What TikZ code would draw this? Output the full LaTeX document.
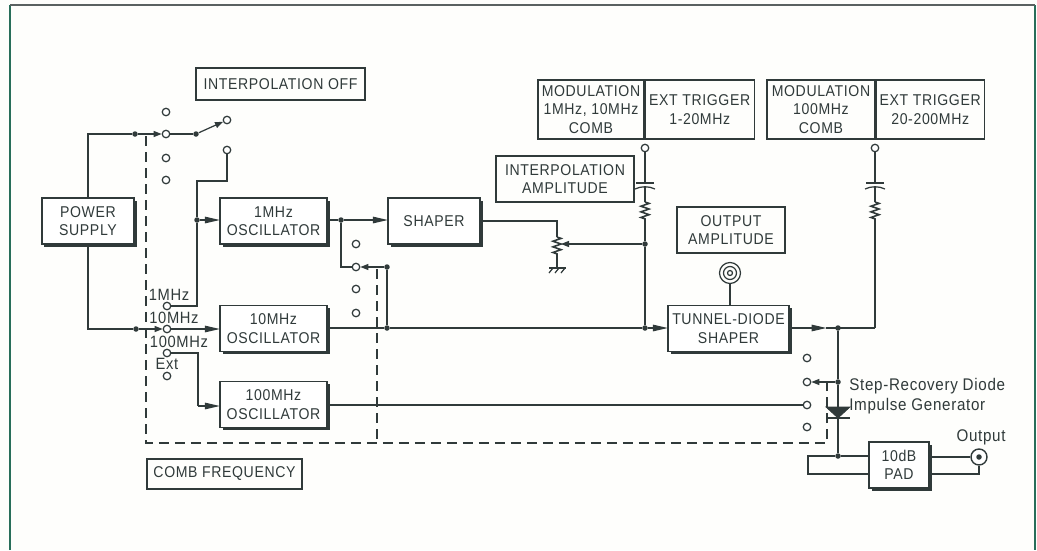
\documentclass[tikz,border=0pt]{standalone}
\usepackage{fontspec}
\setmainfont[LetterSpace=4, FakeStretch=0.9]{Liberation Sans}
\usepackage{tikz}
\usetikzlibrary{arrows.meta, shadows, decorations.pathmorphing}
\definecolor{inkgrey}{RGB}{48,58,58}
\definecolor{framegreen}{RGB}{40,110,90}
\definecolor{paperwhite}{RGB}{254,254,252}

\begin{document}
\begin{tikzpicture}[
  x=0.2mm, y=-0.2mm,
  every node/.style={text=inkgrey},
  wire/.style={draw=inkgrey, line width=0.7pt},
  resist/.style={draw=inkgrey, line width=0.9pt, decorate,
    decoration={zigzag, segment length=3.2pt, amplitude=2.3pt}},
  blockbox/.style={draw=inkgrey, fill=white, line width=0.7pt, minimum width=#1,
    minimum height=0.92cm, align=center, inner sep=0pt, font=\fontsize{8.9}{10.4}\selectfont,
    drop shadow={shadow xshift=0.05cm, shadow yshift=-0.05cm, fill=inkgrey, opacity=1}},
  blockbox/.default=2.14cm,
  labelbox/.style={draw=inkgrey, line width=0.7pt, align=center, inner sep=0pt,
    font=\fontsize{8.9}{10.4}\selectfont},
  contact/.style={circle, draw=inkgrey, fill=white, line width=0.7pt, minimum size=0.15cm, inner sep=0pt},
  junct/.style={circle, fill=inkgrey, minimum size=0.11cm, inner sep=0pt},
  ctext/.style={font=\fontsize{9.3}{10}\selectfont, inner sep=0pt},
  steptext/.style={font=\fontsize{9.6}{10}\selectfont, inner sep=0pt},
  arr/.style={wire, -{Triangle[length=0.3cm, width=0.13cm]}, shorten >=-0.3pt},
  sarr/.style={wire, -{Triangle[length=0.16cm, width=0.12cm]}},
  combdash/.style={draw=inkgrey, line width=0.6pt, dash pattern=on 0.2cm off 0.12cm}
]
\useasboundingbox (0,0) rectangle (1037,550);
\fill[paperwhite] (0,0) rectangle (1037,550);
% Frame
\draw[framegreen, line width=0.8pt] (10,550) -- (10,5);
\draw[framegreen, line width=0.8pt] (1035,5) -- (1035,550);
\draw[inkgrey!80, line width=0.8pt] (10,5) -- (1035,5);
% Dashed link of the comb frequency switch
\draw[combdash] (146,136) -- (146,443) -- (827,443) -- (827,382);
\draw[combdash] (377,269) -- (377,443);
% Blocks
\node[blockbox=1.84cm] (power) at (88,221) {POWER\\SUPPLY};
\node[blockbox] (osc1) at (273.5,221) {1MHz\\OSCILLATOR};
\node[blockbox] (osc10) at (273.5,328.5) {10MHz\\OSCILLATOR};
\node[blockbox] (osc100) at (273.5,404.5) {100MHz\\OSCILLATOR};
\node[blockbox=1.84cm] (shaper) at (434,221) {SHAPER};
\node[blockbox=2.42cm] (tunnel) at (728.5,328.5) {TUNNEL-DIODE\\SHAPER};
\node[blockbox=1.2cm] (pad) at (899,465) {10dB\\PAD};
% Labels
\node[labelbox, minimum width=3.38cm, minimum height=0.64cm] (interpoff) at (280.5,84) {INTERPOLATION OFF};
\node[labelbox, minimum width=2.12cm, minimum height=1.18cm] (mod1) at (591,109.5) {MODULATION\\1MHz, 10MHz\\COMB};
\node[labelbox, minimum width=2.18cm, minimum height=1.18cm, anchor=west] (trig1) at (mod1.east) {EXT TRIGGER\\1-20MHz};
\node[labelbox, minimum width=2.16cm, minimum height=1.18cm] (mod2) at (821,109.5) {MODULATION\\100MHz\\COMB};
\node[labelbox, minimum width=2.16cm, minimum height=1.18cm, anchor=west] (trig2) at (mod2.east) {EXT TRIGGER\\20-200MHz};
\node[labelbox, minimum width=2.76cm, minimum height=0.92cm] (interpamp) at (565,179) {INTERPOLATION\\AMPLITUDE};
\node[labelbox, minimum width=2.16cm, minimum height=0.92cm] (outamp) at (731,230) {OUTPUT\\AMPLITUDE};
\node[labelbox, minimum width=3.1cm, minimum height=0.6cm] (combfreq) at (224.5,474) {COMB FREQUENCY};
% Contacts of the interpolation switch
\node[contact] (ia) at (166,112) {};
\node[contact] (ib) at (166,134) {};
\node[contact] (ic) at (166,158) {};
\node[contact] (id) at (166,180) {};
\node[contact] (ion) at (227,120) {};
\node[contact] (ioff) at (227,150) {};
% Contacts of the comb switch
\node[contact] (ca) at (167,306) {};
\node[contact] (cb) at (167,329) {};
\node[contact] (cc) at (167,353) {};
\node[contact] (cd) at (167,376) {};
\node[ctext] (t1) at (169,295) {1MHz};
\node[ctext] (t10) at (174,318) {10MHz};
\node[ctext] (t100) at (179,342) {100MHz};
\node[ctext] (text) at (167,364) {Ext};
% Second and third switch
\foreach \nm/\yc in {a/244, b/267, c/289, d/313} {
  \node[contact] (m\nm) at (356,\yc) {};
}
\foreach \nm/\yc in {a/358, b/382, c/405, d/427} {
  \node[contact] (r\nm) at (807,\yc) {};
}
% Junctions
\node[junct] (jtop) at (135,134) {};
\node[junct] (jlow) at (136,329) {};
\node[junct] (jarm) at (196,134) {};
\node[junct] (josc) at (197,220) {};
\node[junct] (jshp) at (341,220) {};
\node[junct] (jmsw) at (387,267) {};
\node[junct] (jmlow) at (387,328) {};
\node[junct] (jmod) at (645,328) {};
\node[junct] (jpot) at (645,244) {};
\node[junct] (jout) at (838,328) {};
\node[junct] (jrsw) at (838,382) {};
\node[junct] (jpad) at (838,456) {};
% Jacks
\node[contact] (jack1) at (645,148) {};
\node[contact] (jack2) at (875,148) {};
\node[circle, draw=inkgrey, fill=white, line width=0.8pt, minimum size=0.32cm, inner sep=0pt] (outjack) at (979,457) {};
\node[junct] (outcore) at (979,457) {};
\node[steptext] (outlbl) at (981,437) {Output};
\node[steptext, anchor=west] (stepa) at (849,386) {Step-Recovery Diode};
\node[steptext, anchor=west] (stepb) at (849,406) {Impulse Generator};
% Knob
\node[circle, draw=inkgrey, line width=0.7pt, minimum size=0.42cm, inner sep=0pt] (knob) at (730,273) {};
\draw[wire] (730,273) circle (6.5) (730,273) circle (2.5);
\draw[wire] (knob) -- (tunnel.north -| knob);
% Power wiring
\draw[wire] (power.north) |- (jtop);
\draw[sarr] (jtop) -- (ib);
\draw[wire] (ib) -- (jarm);
\draw[sarr] (jarm) -- (ion);
\draw[wire] (power.south) |- (jlow);
\draw[sarr] (jlow) -- (cb);
\draw[arr] (cb) -- (cb -| osc10.west);
% Oscillator feeds
\coordinate (benda) at (197,181);
\coordinate (bendb) at (198,406);
\draw[wire] (ioff) |- (benda) -- (josc);
\draw[wire] (josc) |- (ca);
\draw[arr] (josc) -- (josc -| osc1.west);
\draw[wire] (cc) -| (bendb);
\draw[arr] (bendb) -- (bendb -| osc100.west);
% Comb wiring
\draw[wire] (jshp -| osc1.east) -- (jshp);
\draw[arr] (jshp) -- (jshp -| shaper.west);
\draw[wire] (jshp) |- (mb);
\draw[sarr] (jmsw) -- (mb);
\draw[wire] (jmsw) -- (jmlow);
\draw[wire] (jmlow -| osc10.east) -- (jmlow) -- (jmod);
\draw[arr] (jmod) -- (jmod -| tunnel.west);
% Modulation inputs
\foreach \jk/\xc in {jack1/645, jack2/875} {
  \draw[wire] (\jk) -- (\xc,183);
  \draw[wire] (\xc-9,183) -- (\xc+9,183);
  \draw[wire] (\xc-10,189) .. controls (\xc-4,186) and (\xc+4,186) .. (\xc+10,189);
  \draw[wire] (\xc,187) -- (\xc,202);
  \draw[resist] (\xc,202) -- (\xc,220);
}
\draw[wire] (645,220) -- (jpot) -- (jmod);
\coordinate (trigout) at (875,328);
\draw[wire] (875,220) -- (trigout);
% Interpolation pot
\coordinate (pottop) at (557,237);
\coordinate (potlow) at (557,255);
\coordinate (potgnd) at (557,268);
\coordinate (pottap) at (561,244);
\draw[wire] (shaper.east) -| (pottop);
\draw[resist] (pottop) -- (potlow);
\draw[wire] (potlow) -- (potgnd);
\draw[wire] (549,268) -- (566,268);
\foreach \xc in {553,559,565} { \draw[wire] (\xc,268) -- (\xc-4,273); }
\draw[sarr] (jpot) -- (pottap);
% Output side
\coordinate (tunarr) at (826,328);
\draw[arr] (tunnel.east |- tunarr) -- (tunarr);
\draw[wire] (tunarr) -- (trigout);
\draw[wire] (jout) -- (jrsw);
\draw[sarr] (jrsw) -- (rb);
\coordinate (diodetop) at (838,407);
\coordinate (diodebar) at (838,418);
\coordinate (loopa) at (808,456);
\coordinate (loopb) at (808,474);
\coordinate (outcorner) at (979,474);
\draw[wire] (jrsw) -- (diodetop);
\draw[fill=inkgrey, draw=inkgrey] (826,407) -- (850,407) -- (diodebar) -- cycle;
\draw[wire] (826,418) -- (850,418);
\draw[wire] (diodebar) -- (jpad);
\draw[wire] (rc -| osc100.east) -- (rc);
\draw[wire] (pad.west |- jpad) -- (jpad) -- (loopa) -- (loopb) -- (pad.west |- loopb);
\draw[wire] (pad.east |- outjack) -- (outjack);
\draw[wire] (pad.east |- outcorner) -- (outcorner) -- (outjack);
\end{tikzpicture}
\end{document}
